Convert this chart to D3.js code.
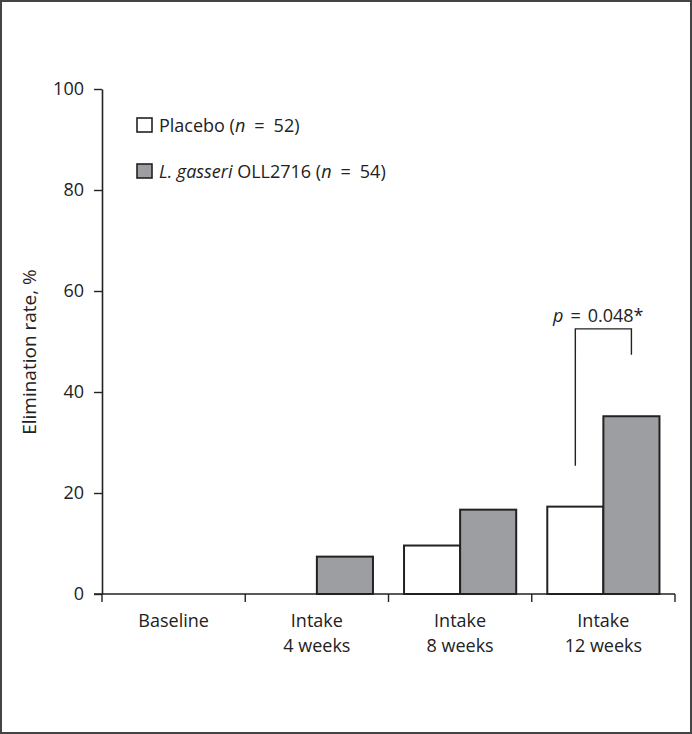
<!DOCTYPE html>
<html>
<head>
<meta charset="utf-8">
<title>Elimination rate</title>
<script src="https://d3js.org/d3.v7.min.js"></script>
<style>
  body { margin: 0; background: #fff; }
  text { font-family: "Open Sans", "Noto Sans", sans-serif; fill: #222; }
</style>
</head>
<body>
<script>
var w = 692, h = 734;

var categories = [["Baseline"], ["Intake", "4 weeks"], ["Intake", "8 weeks"], ["Intake", "12 weeks"]];
var seriesNames = ["placebo", "gasseri"];
var placebo = [0, 0, 9.6, 17.3];
var gasseri = [0, 7.4, 16.7, 35.2];
var yTicks = [0, 20, 40, 60, 80, 100];
var colors = {placebo: "#ffffff", gasseri: "#9d9ea2"};

var margin = {left: 102, right: 17, top: 89, bottom: 140};

var svg = d3.select("body").append("svg")
  .attr("width", w).attr("height", h);

// outer frame
svg.append("rect")
  .attr("x", 1).attr("y", 1).attr("width", w - 2).attr("height", h - 2)
  .attr("fill", "none").attr("stroke", "#444").attr("stroke-width", 2);

var x = d3.scaleBand()
  .domain(d3.range(categories.length))
  .range([margin.left, w - margin.right]);

var xs = d3.scaleBand()
  .domain(seriesNames)
  .range([0, x.bandwidth()])
  .paddingOuter(0.277);

var y = d3.scaleLinear().domain([0, 100]).range([h - margin.bottom, margin.top]);

// bars
var rows = categories.map(function(c, i){
  return [{s: "placebo", v: placebo[i], i: i}, {s: "gasseri", v: gasseri[i], i: i}];
});

svg.append("g").selectAll("g")
  .data(rows).enter().append("g")
  .selectAll("rect")
  .data(function(d){ return d.filter(function(e){ return e.v > 0; }); })
  .enter().append("rect")
  .attr("x", function(d){ return x(d.i) + xs(d.s); })
  .attr("y", function(d){ return y(d.v); })
  .attr("width", xs.bandwidth())
  .attr("height", function(d){ return y(0) - y(d.v); })
  .attr("fill", function(d){ return colors[d.s]; })
  .attr("stroke", "#222")
  .attr("stroke-width", 2);

// y axis
var yAxis = svg.append("g")
  .attr("transform", "translate(" + margin.left + ",0)")
  .call(d3.axisLeft(y).tickValues(yTicks).tickSize(8).tickPadding(10).tickSizeOuter(0));
yAxis.select(".domain").attr("stroke", "#222").attr("stroke-width", 1.6);
yAxis.selectAll(".tick line").attr("stroke", "#222").attr("stroke-width", 1.4);
yAxis.selectAll("text").style("font-size", "18px").attr("fill", "#222")
  .attr("font-family", null);

// x axis line + boundary ticks
var x0 = y(0);
svg.append("line")
  .attr("x1", margin.left - 8).attr("x2", w - margin.right)
  .attr("y1", x0).attr("y2", x0)
  .attr("stroke", "#222").attr("stroke-width", 1.6);

var bounds = d3.range(categories.length + 1).map(function(i){
  return i < categories.length ? x(i) : x(i - 1) + x.bandwidth();
});
svg.append("g").selectAll("line")
  .data(bounds).enter().append("line")
  .attr("x1", function(d){ return d; }).attr("x2", function(d){ return d; })
  .attr("y1", x0).attr("y2", x0 + 8)
  .attr("stroke", "#222").attr("stroke-width", 1.4);

// category labels
var cl = svg.append("g").selectAll("text")
  .data(categories).enter().append("text")
  .attr("x", function(d, i){ return x(i) + x.bandwidth() / 2; })
  .attr("y", 627)
  .attr("text-anchor", "middle")
  .style("font-size", "18px");
cl.selectAll("tspan")
  .data(function(d){ return d; }).enter().append("tspan")
  .attr("x", function(){ return d3.select(this.parentNode).attr("x"); })
  .attr("dy", function(d, j){ return j === 0 ? 0 : 25; })
  .text(function(d){ return d; });

// y axis title
svg.append("text")
  .attr("transform", "translate(36,352) rotate(-90)")
  .attr("text-anchor", "middle")
  .style("font-size", "19px")
  .text("Elimination rate, %");

// legend
var legend = [
  {s: "placebo", parts: [["Placebo (", false, 0], ["n", true, 0], ["=", false, 9], ["52)", false, 9]]},
  {s: "gasseri", parts: [["L. gasseri", true, 0], [" OLL2716 (", false, 0], ["n", true, 0], ["=", false, 9], ["54)", false, 9]]}
];
var lg = svg.append("g").selectAll("g")
  .data(legend).enter().append("g")
  .attr("transform", function(d, i){ return "translate(137," + (118 + i * 46) + ")"; });
lg.append("rect")
  .attr("width", 15).attr("height", 14)
  .attr("fill", function(d){ return colors[d.s]; })
  .attr("stroke", "#222").attr("stroke-width", 1.6);
lg.append("text")
  .attr("x", 22).attr("y", 14)
  .style("font-size", "18px")
  .selectAll("tspan")
  .data(function(d){ return d.parts; }).enter().append("tspan")
  .attr("dx", function(d){ return d[2]; })
  .style("font-style", function(d){ return d[1] ? "italic" : "normal"; })
  .text(function(d){ return d[0]; });

// significance bracket at 12 weeks
var bi = 3;
var bl = x(bi) + xs("placebo") + xs.bandwidth() / 2;
var br = x(bi) + xs("gasseri") + xs.bandwidth() / 2;
var by = y(52.5);
svg.append("path")
  .attr("d", "M" + bl + "," + y(25.4) + "V" + by + "H" + br + "V" + y(47.4))
  .attr("fill", "none").attr("stroke", "#222").attr("stroke-width", 1.4);
var pt = svg.append("text")
  .attr("x", 553).attr("y", by - 7)
  .style("font-size", "18px");
pt.append("tspan").style("font-style", "italic").text("p");
pt.append("tspan").attr("dx", 7).text("=");
pt.append("tspan").attr("dx", 7).text("0.048*");
</script>
</body>
</html>
